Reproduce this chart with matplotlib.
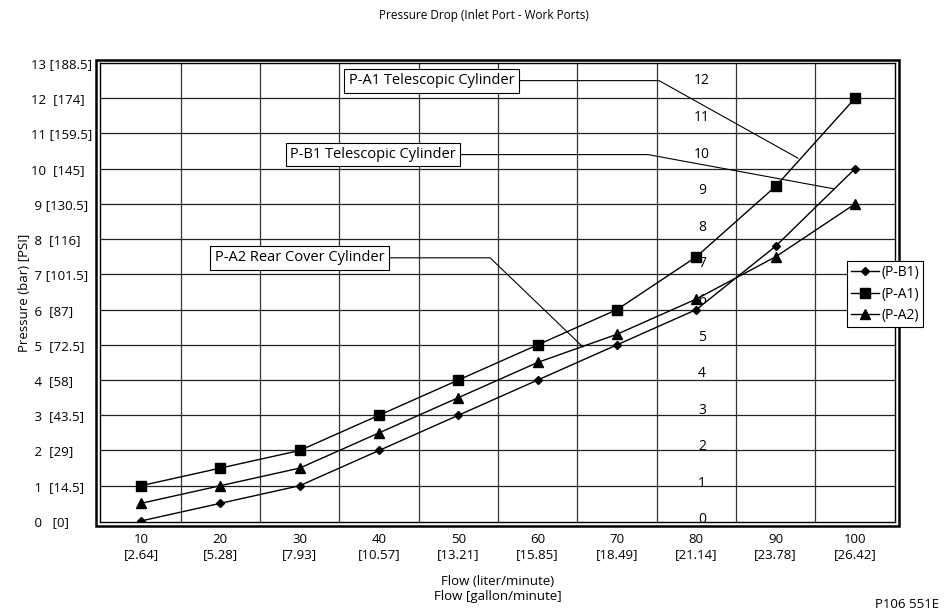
import matplotlib.pyplot as plt
from matplotlib.patches import Rectangle

plt.rcParams['font.family'] = ['Open Sans', 'DejaVu Sans']

# data
flow_lpm = [10, 20, 30, 40, 50, 60, 70, 80, 90, 100]
flow_gpm = ['2.64', '5.28', '7.93', '10.57', '13.21', '15.85', '18.49', '21.14', '23.78', '26.42']
p_b1 = [0, 0.5, 1, 2, 3, 4, 5, 6, 7.8, 10]
p_a1 = [1, 1.5, 2, 3, 4, 5, 6, 7.5, 9.5, 12]
p_a2 = [0.5, 1, 1.5, 2.5, 3.5, 4.5, 5.3, 6.3, 7.5, 9]
bar_ticks = list(range(14))
psi_labels = ['0', '14.5', '29', '43.5', '58', '72.5', '87', '101.5', '116',
              '130.5', '145', '159.5', '174', '188.5']
inner_scale = list(range(13))

# callouts: text, box left/center, elbow, tip
callouts = [
    ('P-A1 Telescopic Cylinder', (36.2, 12.5), (75.3, 12.5), (92.8, 10.3)),
    ('P-B1 Telescopic Cylinder', (28.8, 10.4), (73.9, 10.4), (97.3, 9.43)),
    ('P-A2 Rear Cover Cylinder', (19.3, 7.47), (54.0, 7.47), (65.7, 4.94)),
]

fig = plt.figure(figsize=(9.44, 6.16), dpi=100)
ax = fig.add_axes([0.1059, 0.1526, 0.8422, 0.7451])

ax.plot(flow_lpm, p_b1, color='black', lw=1, marker='D', ms=4.5, label='(P-B1)', zorder=5)
ax.plot(flow_lpm, p_a1, color='black', lw=1, marker='s', ms=6.5, label='(P-A1)', zorder=5)
ax.plot(flow_lpm, p_a2, color='black', lw=1, marker='^', ms=7, label='(P-A2)', zorder=5)

ax.set_xlim(4.83, 105.04)
ax.set_ylim(-0.03, 13)

# grid: horizontal at each bar, vertical between flow categories
for y in bar_ticks[1:-1]:
    ax.axhline(y, color='#222222', lw=0.9, zorder=1)
for i in range(len(flow_lpm) - 1):
    ax.axvline((flow_lpm[i] + flow_lpm[i + 1]) / 2, color='#333333', lw=0.9, zorder=1)

ax.set_xticks(flow_lpm)
ax.set_xticklabels([f'{f}\n[{g}]' for f, g in zip(flow_lpm, flow_gpm)], fontsize=9.5)
ax.set_yticks(bar_ticks)
ylabels = []
for b, p in zip(bar_ticks, psi_labels):
    gap = ' ' if len(p) >= 5 else '  '
    if b == 0:
        gap = '   '
    lead = '' if b >= 10 else ' '
    ylabels.append(f'{lead}{b}{gap}[{p}]')
ax.set_yticklabels(ylabels, fontsize=9.5, ha='left')
ax.tick_params(axis='y', length=0, pad=50)
ax.tick_params(axis='x', length=0, pad=8)

for s in ax.spines.values():
    s.set_linewidth(1.0)
# outer frame of the double border
ax.add_patch(Rectangle((-0.0045, -0.0085), 1.009, 1.015, transform=ax.transAxes,
                       fill=False, lw=1.8, edgecolor='black', clip_on=False))

# inner secondary scale numbers
ax2 = ax.twinx()
ax2.set_ylim(-0.055, 12.49)
ax2.set_yticks([])
for s in ax2.spines.values():
    s.set_visible(False)
for v in inner_scale:
    ax2.text(80.7, v, str(v), ha='center', va='center', fontsize=10)

# callouts
for txt, box, elbow, tip in callouts:
    ax.text(box[0], box[1], txt, ha='left', va='center', fontsize=10.5, zorder=6,
            bbox=dict(boxstyle='square,pad=0.3', fc='white', ec='black', lw=0.8))
    ax.plot([box[0] + 1, elbow[0], tip[0]], [box[1], elbow[1], tip[1]],
            color='black', lw=0.8, zorder=4)

ax.set_xlabel('Flow (liter/minute)\nFlow [gallon/minute]', fontsize=9.5, labelpad=10)
ax.set_ylabel('Pressure (bar) [PSI]', fontsize=9.5, labelpad=0)
fig.text(0.513, 0.975, 'Pressure Drop (Inlet Port - Work Ports)', ha='center', va='center', fontsize=8.5)
fig.text(0.995, 0.018, 'P106 551E', ha='right', va='center', fontsize=9.5)

leg = ax.legend(loc='upper left', bbox_to_anchor=(0.897, 0.576), bbox_transform=fig.transFigure,
                fontsize=10, handlelength=2.0, handletextpad=0.2, borderpad=0.3,
                labelspacing=0.45, fancybox=False, framealpha=1, borderaxespad=0)
leg.get_frame().set_edgecolor('black')
leg.get_frame().set_linewidth(0.8)

fig.savefig('out.png', dpi=100)
